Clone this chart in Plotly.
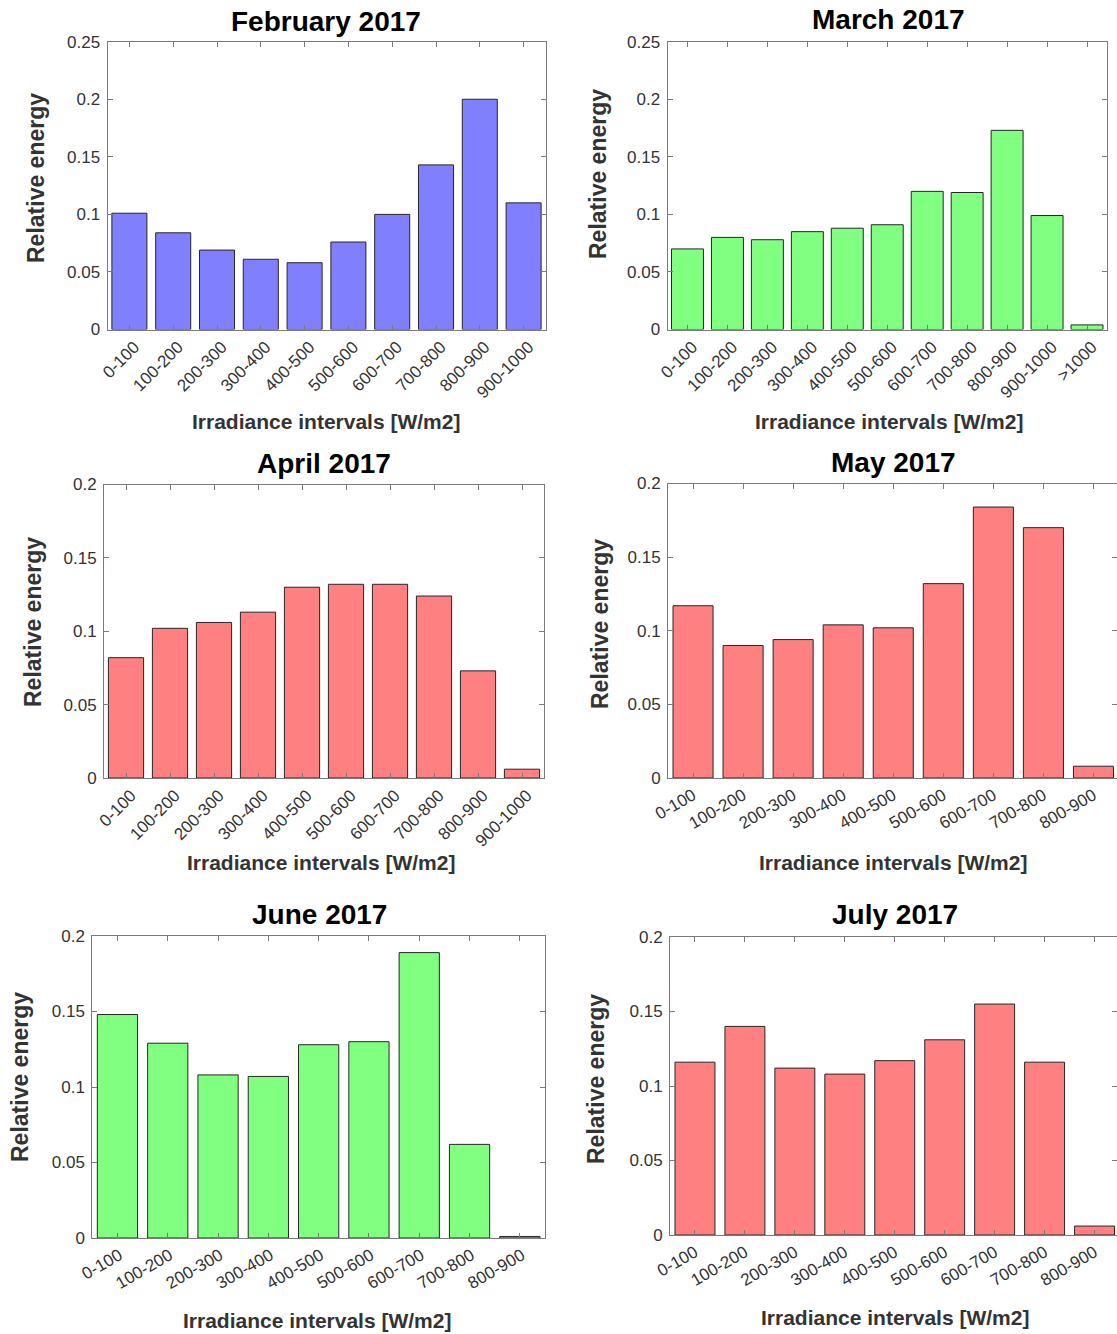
import plotly.graph_objects as go

W, H = 1117, 1334

# Irradiance interval categories
labels_10 = ["0-100", "100-200", "200-300", "300-400", "400-500",
             "500-600", "600-700", "700-800", "800-900", "900-1000"]
labels_11 = labels_10 + [">1000"]
labels_9 = labels_10[:9]

# Relative energy per irradiance interval, by month
feb_vals = [0.101, 0.084, 0.069, 0.061, 0.058, 0.076, 0.100, 0.143, 0.200, 0.110]
mar_vals = [0.070, 0.080, 0.078, 0.085, 0.088, 0.091, 0.120, 0.119, 0.173, 0.099, 0.004]
apr_vals = [0.082, 0.102, 0.106, 0.113, 0.130, 0.132, 0.132, 0.124, 0.073, 0.006]
may_vals = [0.117, 0.090, 0.094, 0.104, 0.102, 0.132, 0.184, 0.170, 0.008]
jun_vals = [0.148, 0.129, 0.108, 0.107, 0.128, 0.130, 0.189, 0.062, 0.001]
jul_vals = [0.116, 0.140, 0.112, 0.108, 0.117, 0.131, 0.155, 0.116, 0.006]

months = ["February 2017", "March 2017", "April 2017", "May 2017", "June 2017", "July 2017"]

BLUE, GREEN, RED = "#8080FF", "#80FF80", "#FF8080"

# panel layout in pixels: axes box (x0, x1, y0, y1), title / label centres
panels = [
    dict(title=months[0], cats=labels_10, vals=feb_vals, color=BLUE, ymax=0.25,
         box=(107.5, 545.5, 41.7, 329.5), angle=-45, shift=5,
         tpos=(326, 21), ypos=(36, 178), xpos=(326, 421)),
    dict(title=months[1], cats=labels_11, vals=mar_vals, color=GREEN, ymax=0.25,
         box=(667.5, 1107, 41.7, 329.5), angle=-45, shift=5,
         tpos=(888, 20), ypos=(598, 174), xpos=(889, 421)),
    dict(title=months[2], cats=labels_10, vals=apr_vals, color=RED, ymax=0.2,
         box=(104, 544, 484.5, 778), angle=-45, shift=5,
         tpos=(324, 463), ypos=(33, 622), xpos=(321, 862)),
    dict(title=months[3], cats=labels_9, vals=may_vals, color=RED, ymax=0.2,
         box=(668, 1118.5, 483.5, 778), angle=-30, shift=0,
         tpos=(893, 462), ypos=(600, 624), xpos=(893, 862)),
    dict(title=months[4], cats=labels_9, vals=jun_vals, color=GREEN, ymax=0.2,
         box=(92.3, 545, 936, 1238), angle=-30, shift=2,
         tpos=(319, 914), ypos=(20, 1077), xpos=(317, 1320)),
    dict(title=months[5], cats=labels_9, vals=jul_vals, color=RED, ymax=0.2,
         box=(670, 1119.5, 937, 1235), angle=-30, shift=0,
         tpos=(895, 914), ypos=(596, 1079), xpos=(895, 1317)),
]

FONT = "Liberation Sans, Arial, Helvetica, sans-serif"
AXIS_GRAY = "#7a7a7a"
TEXT = "#333333"

fig = go.Figure()
layout = dict(
    width=W, height=H,
    margin=dict(l=0, r=0, t=0, b=0, autoexpand=False),
    paper_bgcolor="white", plot_bgcolor="white",
    showlegend=False,
    bargap=0.2,
    font=dict(family=FONT, color=TEXT),
)
annotations = []

for i, p in enumerate(panels, start=1):
    xa = "x" if i == 1 else f"x{i}"
    ya = "y" if i == 1 else f"y{i}"
    n = len(p["cats"])
    x0, x1, y0, y1 = p["box"]
    # clip axes box to the page width, keeping the category spacing
    vis_x1 = min(x1, W)
    xmax = -0.5 + n * (vis_x1 - x0) / (x1 - x0)

    fig.add_trace(go.Bar(
        x=p["cats"], y=p["vals"], xaxis=xa, yaxis=ya,
        marker=dict(color=p["color"], line=dict(color="#262626", width=1)),
        width=0.8,
    ))

    xkey = "xaxis" if i == 1 else f"xaxis{i}"
    ykey = "yaxis" if i == 1 else f"yaxis{i}"
    layout[xkey] = dict(
        domain=[x0 / W, vis_x1 / W], anchor=ya, automargin=False,
        type="category", range=[-0.5, xmax],
        showline=True, linecolor=AXIS_GRAY, linewidth=1, mirror="ticks",
        ticks="inside", ticklen=5, tickcolor=AXIS_GRAY, tickwidth=1,
        showgrid=False, zeroline=False,
        tickangle=p["angle"], ticklabelshift=p["shift"],
        tickfont=dict(size=17, color=TEXT, family=FONT),
    )
    ticks = [round(k * 0.05, 2) for k in range(int(round(p["ymax"] / 0.05)) + 1)]
    layout[ykey] = dict(
        domain=[1 - y1 / H, 1 - y0 / H], anchor=xa, automargin=False,
        range=[0, p["ymax"]],
        tickvals=ticks, ticktext=[f"{t:g}" for t in ticks],
        showline=True, linecolor=AXIS_GRAY, linewidth=1, mirror="ticks",
        ticks="inside", ticklen=5, tickcolor=AXIS_GRAY, tickwidth=1,
        showgrid=False, zeroline=False, ticklabelstandoff=3,
        tickfont=dict(size=17, color=TEXT, family=FONT),
    )

    annotations.append(dict(
        text=f"<b>{p['title']}</b>", xref="paper", yref="paper",
        x=p["tpos"][0] / W, y=1 - p["tpos"][1] / H,
        xanchor="center", yanchor="middle", showarrow=False,
        font=dict(size=28, color="black", family=FONT),
    ))
    annotations.append(dict(
        text="<b>Relative energy</b>", xref="paper", yref="paper",
        x=p["ypos"][0] / W, y=1 - p["ypos"][1] / H,
        xanchor="center", yanchor="middle", showarrow=False, textangle=-90,
        font=dict(size=23, color=TEXT, family=FONT),
    ))
    annotations.append(dict(
        text="<b>Irradiance intervals [W/m2]</b>", xref="paper", yref="paper",
        x=p["xpos"][0] / W, y=1 - p["xpos"][1] / H,
        xanchor="center", yanchor="middle", showarrow=False,
        font=dict(size=21, color=TEXT, family=FONT),
    ))

layout["annotations"] = annotations
fig.update_layout(**layout)

fig.write_html("out.html")
